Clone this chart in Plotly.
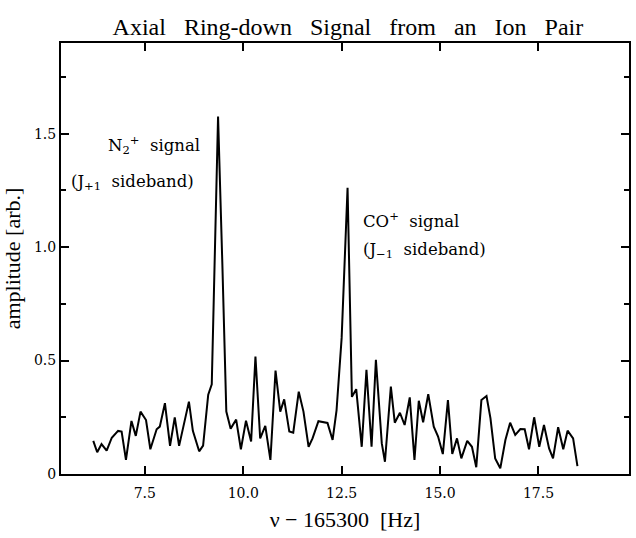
import plotly.graph_objects as go

# frequency offset (Hz) and amplitude (arb.)
freq = [6.19, 6.29, 6.40, 6.53, 6.66, 6.82, 6.91, 7.02, 7.16, 7.27, 7.39, 7.53, 7.64,
        7.80, 7.88, 8.01, 8.14, 8.26, 8.37, 8.62, 8.72, 8.88, 8.98, 9.11, 9.20, 9.28,
        9.36, 9.47, 9.57, 9.68, 9.82, 9.94, 10.07, 10.20, 10.31, 10.43, 10.56, 10.69,
        10.82, 10.94, 11.04, 11.17, 11.27, 11.41, 11.53, 11.66, 11.76, 11.91, 12.03,
        12.14, 12.27, 12.37, 12.50, 12.58, 12.65, 12.76, 12.87, 13.01, 13.13, 13.26,
        13.37, 13.52, 13.60, 13.75, 13.85, 13.98, 14.10, 14.23, 14.35, 14.46, 14.57,
        14.70, 14.84, 14.95, 15.07, 15.20, 15.31, 15.43, 15.54, 15.69, 15.81, 15.92,
        16.05, 16.18, 16.28, 16.40, 16.53, 16.66, 16.78, 16.91, 17.04, 17.15, 17.26,
        17.39, 17.52, 17.64, 17.77, 17.87, 18.00, 18.13, 18.24, 18.38, 18.49]
amp = [0.146, 0.096, 0.132, 0.103, 0.16, 0.19, 0.187, 0.062, 0.234, 0.168, 0.275, 0.238, 0.109,
       0.197, 0.209, 0.312, 0.124, 0.25, 0.124, 0.319, 0.19, 0.10, 0.125, 0.35, 0.395, 1.0,
       1.576, 0.92, 0.275, 0.20, 0.24, 0.109, 0.235, 0.143, 0.518, 0.157, 0.212, 0.062,
       0.456, 0.275, 0.329, 0.187, 0.182, 0.363, 0.275, 0.12, 0.157, 0.233, 0.23,
       0.225, 0.15, 0.28, 0.60, 0.92, 1.262, 0.34, 0.374, 0.12, 0.459, 0.12,
       0.503, 0.135, 0.054, 0.385, 0.226, 0.27, 0.216, 0.338, 0.062, 0.323, 0.228,
       0.352, 0.209, 0.165, 0.088, 0.326, 0.088, 0.157, 0.069, 0.146, 0.12, 0.03,
       0.326, 0.344, 0.246, 0.069, 0.025, 0.15, 0.226, 0.172, 0.198, 0.197, 0.109,
       0.25, 0.12, 0.216, 0.113, 0.069, 0.206, 0.109, 0.191, 0.157, 0.035]

x_ticks = [7.5, 10.0, 12.5, 15.0, 17.5]
x_tick_text = ["7.5", "10.0", "12.5", "15.0", "17.5"]
y_ticks = [0, 0.5, 1.0, 1.5]
y_tick_text = ["0", "0.5", "1.0", "1.5"]

gap = "&nbsp;&nbsp; "
title_text = gap.join(["Axial", "Ring-down", "Signal", "from", "an", "Ion", "Pair"])
x_title = "ν − 165300&nbsp; [Hz]"
y_title = "amplitude [arb.]"

serif = "DejaVu Serif"
times = "Liberation Serif"

fig = go.Figure()
fig.add_trace(go.Scatter(x=freq, y=amp, mode="lines",
                         line=dict(color="black", width=2), showlegend=False,
                         hoverinfo="skip"))

ann_font = dict(family=serif, size=16.5, color="black")
fig.add_annotation(x=8.94, y=1.451, xref="x", yref="y", xanchor="right", yanchor="middle",
                   text="N<sub>2</sub><sup>+</sup>&nbsp; signal", showarrow=False, font=ann_font)
fig.add_annotation(x=8.79, y=1.285, xref="x", yref="y", xanchor="right", yanchor="middle",
                   text="(J<sub>+1</sub>&nbsp; sideband)", showarrow=False, font=ann_font)
fig.add_annotation(x=12.99, y=1.12, xref="x", yref="y", xanchor="left", yanchor="middle",
                   text="CO<sup>+</sup>&nbsp; signal", showarrow=False, font=ann_font)
fig.add_annotation(x=12.99, y=0.985, xref="x", yref="y", xanchor="left", yanchor="middle",
                   text="(J<sub>−1</sub>&nbsp; sideband)", showarrow=False, font=ann_font)

fig.update_layout(
    width=636, height=538,
    margin=dict(l=61, r=5, t=43, b=64),
    paper_bgcolor="white", plot_bgcolor="white",
    title=dict(text=title_text, x=0.547, xanchor="center", y=0.95, yanchor="middle",
               font=dict(family=times, size=24, color="black")),
    xaxis=dict(range=[5.37, 19.8], tickvals=x_ticks, ticktext=x_tick_text,
               ticks="inside", ticklen=8, tickwidth=1.5, tickcolor="black",
               showline=True, linecolor="black", linewidth=2, mirror="allticks",
               showgrid=False, zeroline=False, ticklabelstandoff=5,
               tickfont=dict(family=serif, size=14, color="black"),
               title=dict(text=x_title, font=dict(family=times, size=22, color="black"),
                          standoff=12)),
    yaxis=dict(range=[0, 1.9], tickvals=y_ticks, ticktext=y_tick_text,
               ticks="inside", ticklen=8, tickwidth=1.5, tickcolor="black",
               showline=True, linecolor="black", linewidth=2, mirror="allticks",
               showgrid=False, zeroline=False,
               minor=dict(dtick=0.25, ticks="inside", ticklen=5, tickwidth=1.5, tickcolor="black"),
               tickfont=dict(family=serif, size=14, color="black"),
               title=dict(text=y_title, font=dict(family=times, size=22, color="black"),
                          standoff=10)),
)

fig.write_html("out.html")
